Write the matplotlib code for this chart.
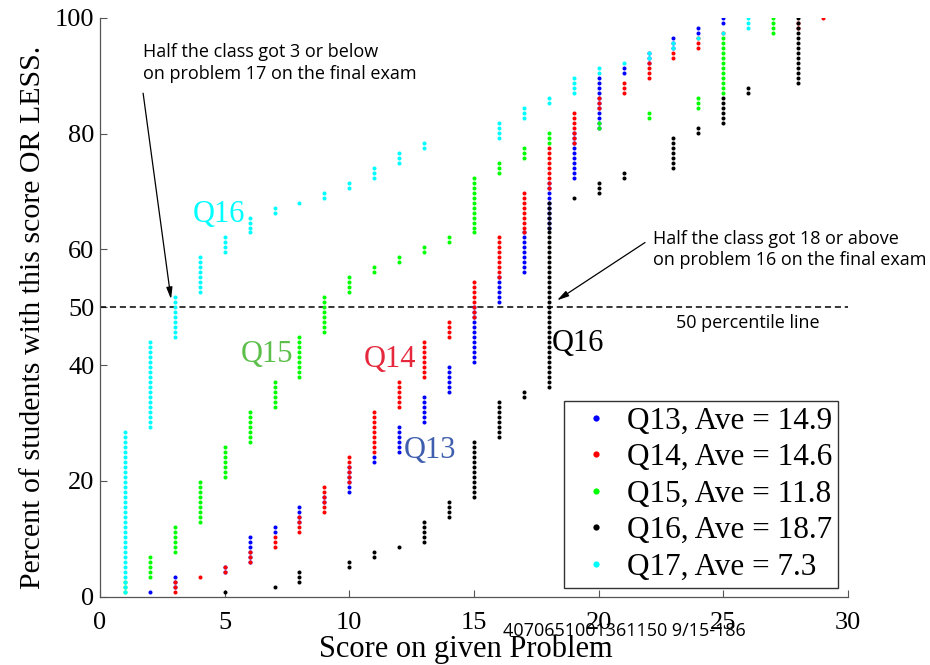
import numpy as np
import matplotlib
matplotlib.use('Agg')
from matplotlib import pyplot as plt
from matplotlib.lines import Line2D

# number of students who got each score (scores 1..29)
scores = np.arange(1, 30)
n_students = 116

q13 = [0, 1, 3, 0, 2, 6, 2, 4, 2, 6, 2, 6, 6, 6, 12, 6, 9, 10, 10, 11, 2, 3, 3, 2, 2, 0, 0, 0, 0]
q14 = [0, 0, 3, 1, 2, 3, 3, 4, 6, 6, 9, 6, 8, 4, 8, 9, 9, 9, 7, 3, 3, 4, 2, 3, 1, 0, 0, 2, 1]
q15 = [3, 5, 6, 9, 7, 7, 6, 9, 8, 4, 2, 2, 2, 2, 12, 3, 3, 3, 0, 2, 0, 2, 0, 3, 12, 0, 4, 0, 0]
q16 = [0, 0, 0, 0, 1, 0, 1, 3, 0, 2, 2, 1, 5, 4, 12, 8, 2, 38, 1, 3, 2, 0, 7, 2, 6, 2, 0, 14, 0]
q17 = [33, 18, 9, 8, 4, 4, 2, 1, 2, 2, 3, 3, 2, 0, 0, 4, 3, 2, 4, 2, 1, 2, 2, 1, 1, 3, 0, 0, 0]

names = ['Q13', 'Q14', 'Q15', 'Q16', 'Q17']
averages = [14.9, 14.6, 11.8, 18.7, 7.3]
colors = ['#0000ff', '#ff0000', '#00ff00', '#000000', '#00ffff']

serif = 'Liberation Serif'
sans = 'Open Sans'

fig = plt.figure(figsize=(9.3, 6.65), dpi=100)
ax = fig.add_axes([0.1075, 0.1027, 0.8043, 0.8703])


def dot_columns(counts):
    # one dot per student, stacked from the previous cumulative percent up
    cum = np.cumsum(counts)
    xs, ys = [], []
    prev = 0
    for s, c in zip(scores, cum):
        k = np.arange(prev + 1, c + 1)
        xs += [s] * len(k)
        ys += list(100.0 * k / n_students)
        prev = c
    return np.array(xs), np.array(ys)


for counts, col in zip([q13, q14, q15, q16, q17], colors):
    x, y = dot_columns(counts)
    ax.plot(x, y, 'o', color=col, ms=2.9, mew=0, zorder=3)

# 50 percentile line
ax.axhline(50, color='k', ls=(0, (4, 2.5)), lw=1.1, zorder=2)
ax.text(23.1, 48.8, '50 percentile line', family=sans, fontsize=13, va='top')

# labels on the curves
ax.text(4.77, 66.0, 'Q16', color='#00ffff', family=serif, fontsize=22, ha='center', va='center')
ax.text(6.7, 41.8, 'Q15', color='#5cbf4a', family=serif, fontsize=22, ha='center', va='center')
ax.text(11.63, 40.9, 'Q14', color='#e5283c', family=serif, fontsize=22, ha='center', va='center')
ax.text(13.24, 25.3, 'Q13', color='#3f5fae', family=serif, fontsize=22, ha='center', va='center')
ax.text(19.17, 43.8, 'Q16', color='k', family=serif, fontsize=22, ha='center', va='center')

# notes with arrows
arrow = dict(arrowstyle='-|>,head_length=0.7,head_width=0.18', color='k', lw=0.9,
             shrinkA=0, shrinkB=0)
ax.text(1.72, 95.6, 'Half the class got 3 or below\non problem 17 on the final exam',
        family=sans, fontsize=13, va='top', linespacing=1.25)
ax.annotate('', xy=(2.85, 51.4), xytext=(1.73, 87.0), arrowprops=arrow)
ax.text(22.18, 63.4, 'Half the class got 18 or above\non problem 16 on the final exam',
        family=sans, fontsize=13, va='top', linespacing=1.25)
ax.annotate('', xy=(18.33, 51.2), xytext=(21.86, 61.2), arrowprops=arrow)

ax.set_xlim(0, 30)
ax.set_ylim(0, 100)
ax.set_xticks([0, 5, 10, 15, 20, 25, 30])
ax.set_yticks([0, 20, 40, 50, 60, 80, 100])
ax.tick_params(direction='in', length=5, width=0.8, color='#555555', labelsize=19, pad=4)
ax.tick_params(axis='x', pad=11)
for lab in ax.get_xticklabels() + ax.get_yticklabels():
    lab.set_family(serif)
for side in ['top', 'right']:
    ax.spines[side].set_visible(False)
for side in ['left', 'bottom']:
    ax.spines[side].set_color('#555555')
    ax.spines[side].set_linewidth(0.9)

ax.set_xlabel('Score on given Problem', family=serif, fontsize=22, labelpad=1)
ax.set_ylabel('Percent of students with this score OR LESS.', family=serif, fontsize=21.5, labelpad=4)
ax.xaxis.set_label_coords(0.489, -0.065)
ax.yaxis.set_label_coords(-0.072, 0.482)

handles = [Line2D([], [], ls='none', marker='o', ms=4.5, mew=0, color=c) for c in colors]
labels = ['%s, Ave = %.1f' % (n, a) for n, a in zip(names, averages)]
leg = ax.legend(handles, labels, loc='lower right', bbox_to_anchor=(0.987, 0.015),
                borderaxespad=0, frameon=True, fancybox=False, edgecolor='k',
                prop={'family': serif, 'size': 22.5}, handlelength=1.6, handletextpad=0.2,
                labelspacing=0.24, borderpad=0.2)
leg.get_frame().set_linewidth(1.0)

fig.text(503 / 930, 1 - 631 / 665, '4070651001361150 9/15-186', family=sans, fontsize=13, va='center')

fig.savefig('out.png', dpi=100)
